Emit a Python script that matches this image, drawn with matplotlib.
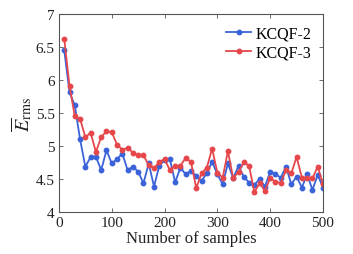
import matplotlib
matplotlib.use("Agg")
import matplotlib.pyplot as plt
from matplotlib.ticker import FuncFormatter

samples = list(range(10, 501, 10))
kcqf2 = [6.45, 5.815, 5.615, 5.10, 4.685, 4.835, 4.835, 4.635, 4.935, 4.735,
         4.80, 4.885, 4.635, 4.685, 4.61, 4.435, 4.735, 4.385, 4.70, 4.785,
         4.80, 4.45, 4.67, 4.57, 4.625, 4.54, 4.47, 4.585, 4.76, 4.57,
         4.42, 4.735, 4.51, 4.695, 4.535, 4.445, 4.41, 4.50, 4.385, 4.61,
         4.575, 4.52, 4.685, 4.42, 4.535, 4.37, 4.57, 4.335, 4.56, 4.37]
kcqf3 = [6.625, 5.91, 5.45, 5.41, 5.135, 5.20, 4.91, 5.135, 5.22, 5.21,
         5.02, 4.945, 4.97, 4.90, 4.86, 4.86, 4.71, 4.66, 4.76, 4.80,
         4.635, 4.70, 4.70, 4.82, 4.76, 4.36, 4.585, 4.67, 4.96, 4.595,
         4.52, 4.92, 4.51, 4.61, 4.75, 4.70, 4.30, 4.435, 4.32, 4.51,
         4.46, 4.435, 4.635, 4.585, 4.835, 4.52, 4.52, 4.51, 4.685, 4.42]

xticks = [0, 100, 200, 300, 400, 500]
yticks = [4, 4.5, 5, 5.5, 6, 6.5, 7]

plt.rcParams['font.family'] = ['Liberation Serif', 'DejaVu Serif']
plt.rcParams['mathtext.fontset'] = 'stix'

fig = plt.figure(figsize=(3.53, 2.55), dpi=100)
ax = fig.add_axes([0.167, 0.165, 0.748, 0.776])

ax.plot(samples, kcqf2, '-o', color='#3b63d9', lw=1.3, ms=3.2, label='KCQF-2')
ax.plot(samples, kcqf3, '-o', color='#e5474b', lw=1.3, ms=3.2, label='KCQF-3')

ax.set_xlim(0, 500)
ax.set_ylim(4, 7)
ax.set_xticks(xticks)
ax.set_yticks(yticks)
ax.yaxis.set_major_formatter(FuncFormatter(lambda v, p: ('%g' % v)))
ax.tick_params(direction='in', top=True, right=True, labelsize=11,
               length=3, width=0.6, color='#555555', labelcolor='#222222', pad=3)
for s in ax.spines.values():
    s.set_color('#555555')
    s.set_linewidth(0.8)

ax.set_xlabel('Number of samples', fontsize=12, color='#222222', labelpad=1)
ax.set_ylabel(r'$\overline{E}_{\mathrm{rms}}$', fontsize=14.5, color='#222222', labelpad=1)

ax.legend(loc='upper right', frameon=False, fontsize=11.5, handlelength=1.55,
          handletextpad=0.3, borderaxespad=0.3, labelspacing=0.2)

fig.savefig('out.png', dpi=100)
